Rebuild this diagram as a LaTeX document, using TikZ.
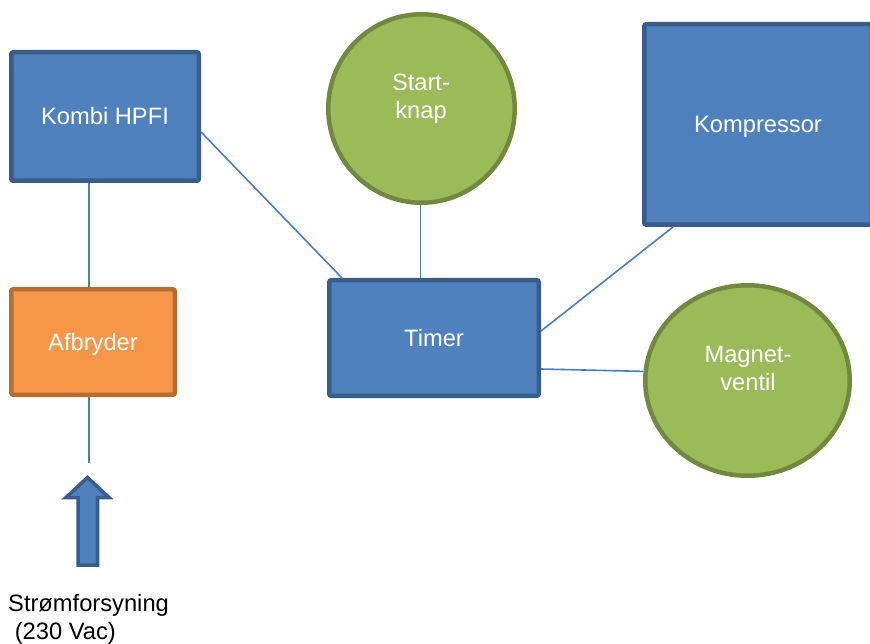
\documentclass[tikz,border=0pt]{standalone}
\usepackage{fontspec}
\setmainfont{Liberation Sans}
\usetikzlibrary{shapes.geometric}
\definecolor{boxblue}{HTML}{4F81BD}
\definecolor{boxblueline}{HTML}{385D8A}
\definecolor{ballgreen}{HTML}{9BBB59}
\definecolor{ballgreenline}{HTML}{71893F}
\definecolor{boxorange}{HTML}{F79646}
\definecolor{boxorangeline}{HTML}{B66D31}
\definecolor{wireblue}{HTML}{4A7EBB}
\begin{document}
\begin{tikzpicture}[x=1pt,y=-1pt,
    every node/.style={font=\fontsize{23.7}{28}\selectfont},
    bluebox/.style={draw=boxblueline,fill=boxblue,line width=4.5pt,rounded corners=2pt,text=white,text height=17pt,text depth=0pt},
    orangebox/.style={draw=boxorangeline,fill=boxorange,line width=4.5pt,rounded corners=2pt,text=white,text height=17pt,text depth=0pt},
    greenball/.style={ellipse,draw=ballgreenline,fill=ballgreen,line width=4.5pt},
    balltext/.style={align=center,text=white},
    wire/.style={draw=wireblue,line width=1.6pt}]
    \useasboundingbox (0,0) rectangle (870,644);
    \node[bluebox,minimum width=187.5pt,minimum height=128.5pt] (kombi) at (105,116.5) {Kombi HPFI};
    \node[orangebox,minimum width=163.5pt,minimum height=105.5pt] (afbryder) at (93,342) {Afbryder};
    \node[bluebox,minimum width=209.5pt,minimum height=115.5pt] (timer) at (434,338) {Timer};
    \node[bluebox,minimum width=227.5pt,minimum height=200.5pt] (kompressor) at (758,124.5) {Kompressor};
    \node[greenball,minimum width=186.5pt,minimum height=188.5pt] (startknap) at (421.5,108.5) {};
    \node[balltext] (startknaptext) at (421,99) {Start-\\knap};
    \node[greenball,minimum width=204.5pt,minimum height=190.5pt] (magnetventil) at (747.5,380.5) {};
    \node[balltext] (magnetventiltext) at (748,368) {Magnet-\\ventil};
    \coordinate (feed) at (89,463);
    \draw[wire] (kombi.south -| feed) -- (afbryder.north -| feed);
    \draw[wire] (afbryder.south -| feed) -- (feed);
    \draw[wire] ([yshift=-15.5pt]kombi.east) -- ([xshift=15pt]timer.north west);
    \draw[wire] ([xshift=-1pt]startknap.south) -- ([xshift=-1pt]startknap.south |- timer.north);
    \draw[wire] ([yshift=7pt]timer.east) -- ([xshift=31pt]kompressor.south west);
    \draw[wire] ([yshift=-31pt]timer.east) -- (magnetventil.175);
    \draw[draw=boxblueline,fill=boxblue,line width=3.5pt] (78,565) -- (78,497.5) -- (66,497.5) -- (87.5,477.5)
      -- (109,497.5) -- (97.5,497.5) -- (97.5,565) -- cycle;
    \node[anchor=north west,align=left,inner sep=0pt] (supplytext) at (8,594.5) {Strømforsyning\\\ (230 Vac)};
\end{tikzpicture}
\end{document}
